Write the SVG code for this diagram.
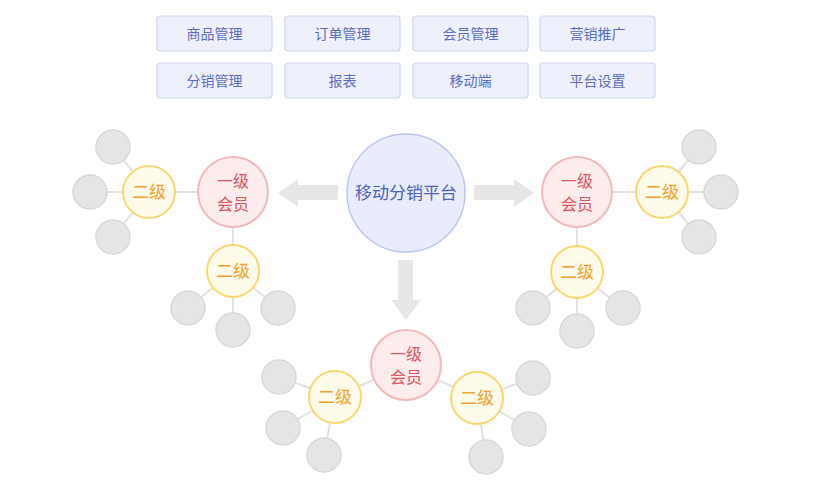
<svg xmlns="http://www.w3.org/2000/svg" width="838" height="492" viewBox="0 0 838 492">
<style>
text{font-family:"Noto Sans CJK SC","Noto Sans",sans-serif;text-anchor:middle}
.box rect{fill:#eef1fc;stroke:#cdd5f3;stroke-width:1.2}
.box text{font-size:14px;fill:#5b6cc6}
.g{fill:#e5e5e5;stroke:#d8d8d8;stroke-width:1.5}
.l2 circle{fill:#fefbea;stroke:#fbd66e;stroke-width:2}
.l2 text{font-size:17px;fill:#f2a12e}
.l1 circle{fill:#fdecec;stroke:#f3b9bb;stroke-width:2}
.l1 text{font-size:16px;fill:#dd5561}
.ln line{stroke:#e2e2e2;stroke-width:2}
.arr{fill:#e6e6e6}
</style>
<rect width="838" height="492" fill="#ffffff"/>
<g id="menu">
<g id="b1" class="box"><rect x="157" y="16" width="115" height="35" rx="3"/><text x="214.5" y="39">商品管理</text></g>
<g id="b2" class="box"><rect x="285" y="16" width="115" height="35" rx="3"/><text x="342.5" y="39">订单管理</text></g>
<g id="b3" class="box"><rect x="413" y="16" width="115" height="35" rx="3"/><text x="470.5" y="39">会员管理</text></g>
<g id="b4" class="box"><rect x="540" y="16" width="115" height="35" rx="3"/><text x="597.5" y="39">营销推广</text></g>
<g id="b5" class="box"><rect x="157" y="63" width="115" height="35" rx="3"/><text x="214.5" y="86">分销管理</text></g>
<g id="b6" class="box"><rect x="285" y="63" width="115" height="35" rx="3"/><text x="342.5" y="86">报表</text></g>
<g id="b7" class="box"><rect x="413" y="63" width="115" height="35" rx="3"/><text x="470.5" y="86">移动端</text></g>
<g id="b8" class="box"><rect x="540" y="63" width="115" height="35" rx="3"/><text x="597.5" y="86">平台设置</text></g>
</g>
<g id="connectors" class="ln">
<line x1="233" y1="192" x2="149" y2="192"/>
<line x1="149" y1="192" x2="113" y2="147"/>
<line x1="149" y1="192" x2="90" y2="192"/>
<line x1="149" y1="192" x2="113" y2="237"/>
<line x1="233" y1="192" x2="233" y2="271"/>
<line x1="233" y1="271" x2="188" y2="308"/>
<line x1="233" y1="271" x2="233" y2="330"/>
<line x1="233" y1="271" x2="278" y2="308"/>
<line x1="577" y1="192" x2="662" y2="192"/>
<line x1="662" y1="192" x2="699" y2="147"/>
<line x1="662" y1="192" x2="721" y2="192"/>
<line x1="662" y1="192" x2="699" y2="237"/>
<line x1="577" y1="192" x2="577" y2="272"/>
<line x1="577" y1="272" x2="533" y2="308"/>
<line x1="577" y1="272" x2="577" y2="331"/>
<line x1="577" y1="272" x2="623" y2="308"/>
<line x1="406" y1="365" x2="335" y2="397"/>
<line x1="335" y1="397" x2="279" y2="377"/>
<line x1="335" y1="397" x2="283" y2="428"/>
<line x1="335" y1="397" x2="324" y2="455"/>
<line x1="406" y1="365" x2="477" y2="398"/>
<line x1="477" y1="398" x2="533" y2="378"/>
<line x1="477" y1="398" x2="529" y2="429"/>
<line x1="477" y1="398" x2="486" y2="457"/>
<polygon class="arr" points="338,185 298,185 298,179 278,193 298,207 298,200 338,200"/>
<polygon class="arr" points="474,185 514,185 514,179 534,193 514,207 514,200 474,200"/>
<polygon class="arr" points="398,260 413,260 413,300 421,300 406,320 391,300 398,300"/>
</g>
<g id="center"><circle cx="406" cy="193" r="59" fill="#e9edfb" stroke="#bcc7f0" stroke-width="1.5"/><text x="406" y="199" font-size="17" fill="#4f60bf">移动分销平台</text></g>
<g id="grey">
<circle class="g" cx="113" cy="147" r="17"/><circle class="g" cx="90" cy="192" r="17"/><circle class="g" cx="113" cy="237" r="17"/>
<circle class="g" cx="188" cy="308" r="17"/><circle class="g" cx="233" cy="330" r="17"/><circle class="g" cx="278" cy="308" r="17"/>
<circle class="g" cx="699" cy="147" r="17"/><circle class="g" cx="721" cy="192" r="17"/><circle class="g" cx="699" cy="237" r="17"/>
<circle class="g" cx="533" cy="308" r="17"/><circle class="g" cx="577" cy="331" r="17"/><circle class="g" cx="623" cy="308" r="17"/>
<circle class="g" cx="279" cy="377" r="17"/><circle class="g" cx="283" cy="428" r="17"/><circle class="g" cx="324" cy="455" r="17"/>
<circle class="g" cx="533" cy="378" r="17"/><circle class="g" cx="529" cy="429" r="17"/><circle class="g" cx="486" cy="457" r="17"/>
</g>
<g id="l1-left" class="l1"><circle cx="233" cy="192" r="35"/><text x="233" y="187">一级</text><text x="233" y="210">会员</text></g>
<g id="l1-right" class="l1"><circle cx="577" cy="192" r="35"/><text x="577" y="187">一级</text><text x="577" y="210">会员</text></g>
<g id="l1-bottom" class="l1"><circle cx="406" cy="365" r="35"/><text x="406" y="360">一级</text><text x="406" y="383">会员</text></g>
<g id="l2-a" class="l2"><circle cx="149" cy="192" r="26"/><text x="149" y="198">二级</text></g>
<g id="l2-b" class="l2"><circle cx="233" cy="271" r="26"/><text x="233" y="277">二级</text></g>
<g id="l2-c" class="l2"><circle cx="662" cy="192" r="26"/><text x="662" y="198">二级</text></g>
<g id="l2-d" class="l2"><circle cx="577" cy="272" r="26"/><text x="577" y="278">二级</text></g>
<g id="l2-e" class="l2"><circle cx="335" cy="397" r="26"/><text x="335" y="403">二级</text></g>
<g id="l2-f" class="l2"><circle cx="477" cy="398" r="26"/><text x="477" y="404">二级</text></g>
</svg>
